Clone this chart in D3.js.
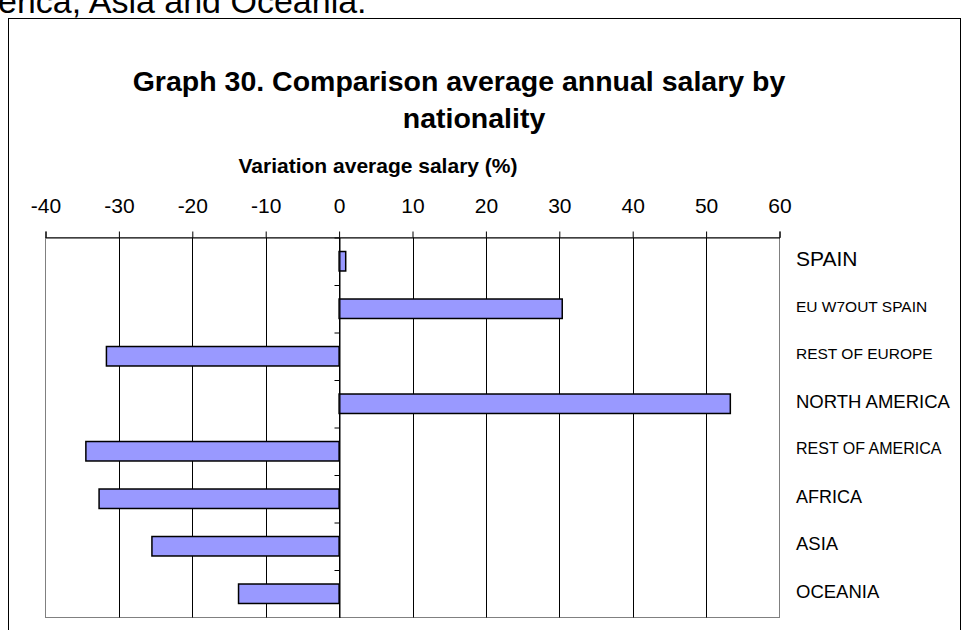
<!DOCTYPE html>
<html>
<head>
<meta charset="utf-8">
<script src="https://cdn.jsdelivr.net/npm/d3@7"></script>
<style>
  body { margin: 0; background: #fff; }
  text { font-family: "Liberation Sans", Arial, sans-serif; }
</style>
</head>
<body>
<div id="chart"></div>
<script>
// Data
var regions = ["SPAIN", "EU W7OUT SPAIN", "REST OF EUROPE", "NORTH AMERICA",
               "REST OF AMERICA", "AFRICA", "ASIA", "OCEANIA"];
var variation = [0.9, 30.4, -31.7, 53.3, -34.5, -32.7, -25.5, -13.7];
var xTicks = [-40, -30, -20, -10, 0, 10, 20, 30, 40, 50, 60];

// label sizes differ in the original (Excel shrink-to-fit)
var labelSize = [21, 15.5, 15.5, 18.5, 16, 18, 18.5, 18.5];

var w = 964, h = 630;
var plot = {left: 45.5, right: 779.5, top: 237.5, bottom: 617.5};

var svg = d3.select("#chart").append("svg")
    .attr("width", w)
    .attr("height", h);

// text of the page above, cut off by the crop
svg.append("text")
    .attr("x", -2).attr("y", 13)
    .attr("font-size", 34)
    .text("erica, Asia and Oceania.");

// chart frame
svg.append("rect")
    .attr("x", 8.5).attr("y", 18.5)
    .attr("width", 952).attr("height", 640)
    .attr("fill", "none")
    .attr("stroke", "#000").attr("stroke-width", 1);

// Title
var title = svg.append("text")
    .attr("text-anchor", "middle")
    .attr("font-size", 28.5)
    .attr("font-weight", "bold");
title.append("tspan").attr("x", 459).attr("y", 91)
    .text("Graph 30. Comparison average annual salary by");
title.append("tspan").attr("x", 474).attr("y", 128)
    .text("nationality");

// axis title
svg.append("text")
    .attr("x", 378).attr("y", 173)
    .attr("text-anchor", "middle")
    .attr("font-size", 21)
    .attr("font-weight", "bold")
    .text("Variation average salary (%)");

// Scales
var x = d3.scaleLinear()
    .domain([-40, 60])
    .range([plot.left, plot.right]);

var y = d3.scaleBand()
    .domain(regions)
    .range([plot.top, plot.bottom])
    .paddingInner(0.59)
    .paddingOuter(0.295);

var yEdge = d3.scaleLinear()
    .domain([0, regions.length])
    .range([plot.top, plot.bottom]);

// plot area border (gray)
svg.append("rect")
    .attr("x", plot.left).attr("y", plot.top)
    .attr("width", plot.right - plot.left)
    .attr("height", plot.bottom - plot.top)
    .attr("fill", "none")
    .attr("stroke", "#808080").attr("stroke-width", 1);

// vertical gridlines
svg.append("g").selectAll("line")
    .data(xTicks.slice(1, -1))
    .enter().append("line")
    .attr("x1", function(d) { return Math.round(x(d)) + 0.5; })
    .attr("x2", function(d) { return Math.round(x(d)) + 0.5; })
    .attr("y1", plot.top)
    .attr("y2", plot.bottom)
    .attr("stroke", "#000").attr("stroke-width", 1);

// Bars
svg.append("g").selectAll("rect")
    .data(variation)
    .enter().append("rect")
    .attr("x", function(d) { return x(Math.min(0, d)); })
    .attr("y", function(d, i) { return y(regions[i]); })
    .attr("width", function(d) { return Math.abs(x(d) - x(0)); })
    .attr("height", y.bandwidth())
    .attr("fill", "#9999ff")
    .attr("stroke", "#000").attr("stroke-width", 1.5);

// category axis on the zero line
var yAxis = svg.append("g")
    .attr("transform", "translate(" + (Math.round(x(0)) + 0.5) + ",0)")
    .call(d3.axisLeft(yEdge)
        .tickValues(d3.range(regions.length))
        .tickSize(5)
        .tickSizeOuter(0)
        .tickFormat(""));
yAxis.select(".domain").attr("stroke", "#000");

// value axis along the top
var xAxis = svg.append("g")
    .attr("transform", "translate(0," + plot.top + ")")
    .call(d3.axisTop(x)
        .tickValues(xTicks)
        .tickSize(6)
        .tickPadding(18.5)
        .tickFormat(function(d) { return String(d); }));
xAxis.selectAll("text")
    .attr("font-family", "Liberation Sans, Arial, sans-serif")
    .attr("font-size", 21)
    .attr("fill", "#000");

// category labels on the right
svg.append("g").selectAll("text")
    .data(regions)
    .enter().append("text")
    .attr("x", 796)
    .attr("y", function(d, i) { return y(d) + y.bandwidth() / 2 + 0.35 * labelSize[i] - 2.5; })
    .attr("font-size", function(d, i) { return labelSize[i]; })
    .attr("fill", "#000")
    .text(function(d) { return d; });
</script>
</body>
</html>
